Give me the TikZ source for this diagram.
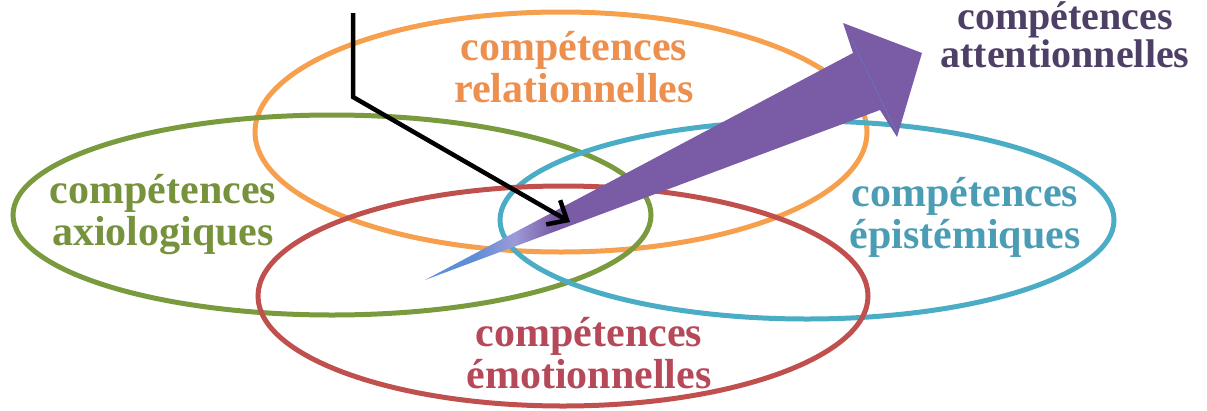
\documentclass[tikz,border=0pt]{standalone}
\usepackage{fontspec}
\setmainfont{Liberation Serif}
\usepackage{tikz}
\usetikzlibrary{arrows,arrows.meta}
\usepackage{xcolor}
\definecolor{relline}{HTML}{F6A04D}
\definecolor{reltext}{HTML}{EC8F4F}
\definecolor{axline}{HTML}{7A9A3E}
\definecolor{axtext}{HTML}{76923C}
\definecolor{epiline}{HTML}{4BACC6}
\definecolor{epitext}{HTML}{4A9DB5}
\definecolor{emoline}{HTML}{C0504D}
\definecolor{emotext}{HTML}{B5495A}
\definecolor{atttext}{HTML}{4E3F66}
\definecolor{arrowpurple}{HTML}{7A5BA5}
\definecolor{lavender}{HTML}{9C9AD8}
\definecolor{tailblue}{HTML}{5E8ED6}
\pgfdeclarehorizontalshading{arrowshade}{100bp}{color(0bp)=(tailblue); color(25bp)=(tailblue); color(30bp)=(tailblue); color(34bp)=(lavender); color(38bp)=(arrowpurple); color(100bp)=(arrowpurple)}
\begin{document}
\begin{tikzpicture}[x=1pt, y=-1pt,
  ring/.style = {line width=5pt},
  ctext/.style = {font=\bfseries\fontsize{42}{42}\selectfont, align=center, inner sep=0pt, anchor=base},
  pointer/.style = {line width=4.5pt, -{Straight Barb[length=16pt,width=28pt]}}]
\useasboundingbox (0,0) rectangle (1207,410);

\draw[ring, relline] (561,132) ellipse [x radius=306, y radius=120];
\draw[ring, axline] (332,215) ellipse [x radius=319, y radius=100];
\draw[ring, epiline] (807,220) ellipse [x radius=307, y radius=99];
\draw[ring, emoline] (563,296) ellipse [x radius=305, y radius=110];

\node[ctext, text=reltext] (rel) at (574,102) {compétences\\relationnelles};
\node[ctext, text=axtext] (ax) at (163,245) {compétences\\axiologiques};
\node[ctext, text=epitext] (epi) at (965,248) {compétences\\épistémiques};
\node[ctext, text=emotext] (emo) at (589,388) {compétences\\émotionnelles};
\node[ctext, text=atttext, font=\bfseries\fontsize{40}{30}\selectfont] (att) at (1065,67) {compétences\\attentionnelles};

\coordinate (tail) at (425,280);
\coordinate (tip) at (922,53);
\shade[shading=arrowshade] (tail) -- (853,53) -- (843,23) -- (tip) -- (897,137) -- (880,110) -- cycle;
\draw[line width=1.2pt, arrowpurple!70!tailblue] (852,40) -- (897,133);

\coordinate (start) at (353,13);
\coordinate (bend) at (353,97);
\coordinate (aim) at (570,222);
\draw[pointer] (start) -- (bend) -- (aim);

\end{tikzpicture}
\end{document}
